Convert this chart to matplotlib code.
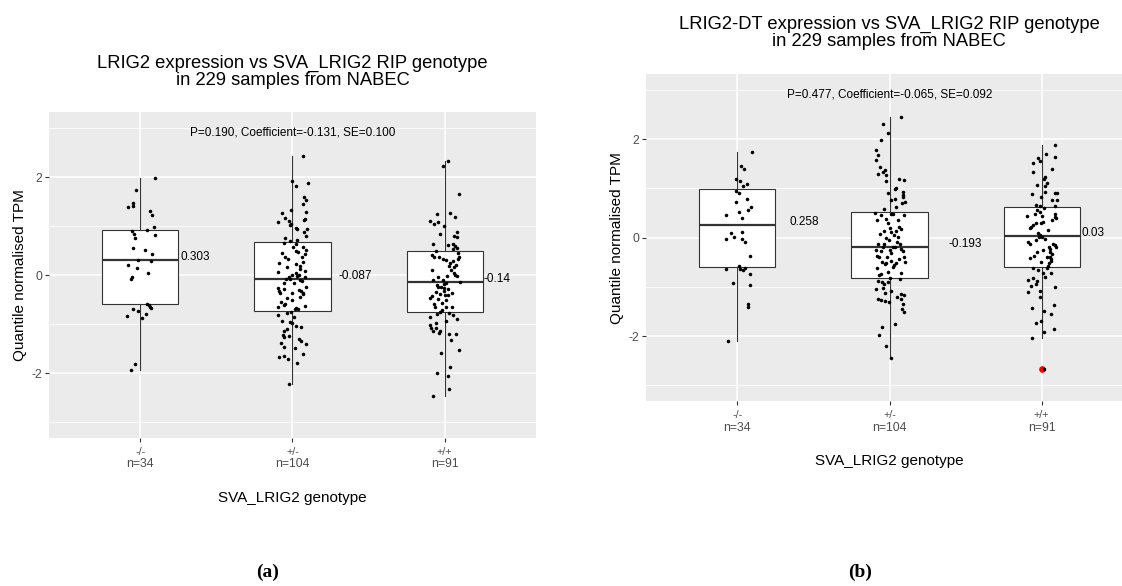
import numpy as np
import matplotlib
matplotlib.use("Agg")
import matplotlib.pyplot as plt

plt.rcParams['font.family'] = ['Liberation Sans', 'DejaVu Sans']
plt.rcParams['axes.unicode_minus'] = False

# ---------------- data ----------------
genotypes = ["-/-", "+/-", "+/+"]
counts = [34, 104, 91]
x_title = "SVA_LRIG2 genotype"
y_title = "Quantile normalised TPM"

titles = ["LRIG2 expression vs SVA_LRIG2 RIP genotype\nin 229 samples from NABEC",
          "LRIG2-DT expression vs SVA_LRIG2 RIP genotype\nin 229 samples from NABEC"]
stats_text = ["P=0.190, Coefficient=-0.131, SE=0.100",
              "P=0.477, Coefficient=-0.065, SE=0.092"]
panel_tags = ["(a)", "(b)"]

# box statistics: q1, median, q3, whisker low, whisker high
a_q1 = [-0.596, -0.725, -0.76]
a_med = [0.303, -0.087, -0.14]
a_q3 = [0.915, 0.684, 0.50]
a_wlo = [-1.93, -2.22, -2.46]
a_whi = [1.98, 2.42, 2.32]
a_fliers = [[], [], []]
a_med_labels = ["0.303", "-0.087", "-0.14"]

b_q1 = [-0.60, -0.81, -0.59]
b_med = [0.258, -0.193, 0.03]
b_q3 = [0.995, 0.514, 0.616]
b_wlo = [-2.11, -2.45, -2.03]
b_whi = [1.75, 2.46, 1.88]
b_fliers = [[], [], [-2.67]]
b_med_labels = ["0.258", "-0.193", "0.03"]

# individual samples (value, horizontal jitter) per genotype
a1_y = [1.98, 1.73, 1.48, 1.41, 1.38, 1.31, 1.22, 0.98, 0.93, 0.89, 0.83, 0.75, 0.81, 0.55, 0.51, 0.44,
        0.31, 0.28, 0.20, 0.15, 0.04, -0.04, -0.07, -0.58, -0.61, -0.64, -0.67, -0.70, -0.74, -0.79,
        -0.83, -0.87, -1.82, -1.93]
a1_j = [0.095, -0.031, -0.048, -0.048, -0.084, 0.066, 0.079, 0.090, 0.046, -0.057, -0.042, -0.033, 0.097,
        -0.046, 0.033, 0.079, -0.018, 0.073, -0.081, -0.020, 0.051, -0.057, -0.064, 0.046, 0.055, 0.062,
        0.068, -0.046, -0.015, 0.035, -0.090, 0.011, -0.037, -0.059]

a2_y = [1.92, 1.82, 1.87, 1.59, 1.54, 1.45, 1.33, 1.29, 1.26, 1.16, 1.14, 1.12, 1.10, 1.08, 1.05, 1.02,
        0.96, 0.94, 0.95, 0.87, 0.79, 0.76, 0.72, 0.70, 0.66, 0.64, 0.58, 0.52, 0.50, 0.45, 0.43, 0.37,
        0.38, 0.26, 0.24, 0.22, 0.16, 0.12, 0.09, 0.06, 0.04, 0.01, 0.00, -0.03, -0.03, -0.07, -0.02,
        -0.07, -0.10, -0.11, -0.15, -0.17, -0.24, -0.26, -0.33, -0.28, -0.36, -0.30, -0.33, -0.39, -0.36,
        -0.36, -0.44, -0.46, -0.51, -0.58, -0.60, -0.62, -0.64, -0.67, -0.68, -0.69, -0.75, -0.85, -0.81,
        -0.93, -0.96, -0.98, -1.03, -1.05, -1.10, -1.14, -1.23, -1.25, -1.26, -1.30, -1.34, -1.41, -1.39,
        -1.46, -1.49, -1.60, -1.67, -1.64, -1.71, -1.79, -2.22, 2.42, 0.33, 0.18, -0.54, 0.58, 0.47, -0.78]
a2_j = [-0.004, 0.025, 0.100, 0.078, 0.087, 0.069, -0.010, 0.087, -0.072, -0.050, 0.084, 0.076, -0.026,
        -0.096, -0.012, -0.015, 0.023, 0.029, 0.098, 0.073, 0.091, -0.052, 0.032, -0.015, -0.059, 0.025,
        0.067, 0.087, 0.025, -0.067, 0.080, 0.062, -0.052, 0.069, -0.089, 0.025, -0.039, 0.047, 0.082,
        -0.098, 0.025, 0.043, -0.001, -0.023, 0.080, -0.041, 0.032, -0.015, 0.047, 0.060, 0.010, -0.054,
        0.091, -0.098, -0.087, -0.056, -0.081, 0.043, 0.056, 0.067, 0.069, -0.006, 0.047, -0.037, -0.001,
        -0.050, -0.059, 0.082, -0.096, 0.025, 0.018, 0.034, -0.012, 0.007, -0.094, -0.067, -0.015, -0.001,
        0.023, 0.054, -0.039, -0.054, -0.063, -0.021, -0.056, 0.045, 0.056, 0.089, -0.078, -0.054, 0.016,
        0.069, -0.087, -0.059, -0.028, 0.029, -0.023, 0.070, -0.032, 0.051, -0.076, 0.003, 0.034, -0.037]

a3_y = [2.32, 2.22, 1.66, 1.27, 1.24, 1.18, 1.10, 1.08, 1.05, 1.00, 0.87, 0.84, 0.80, 0.77, 0.64, 0.62,
        0.59, 0.56, 0.54, 0.46, 0.49, 0.42, 0.37, 0.33, 0.31, 0.28, 0.33, 0.18, 0.20, 0.16, 0.10, 0.10,
        0.05, -0.01, -0.03, -0.01, -0.14, -0.20, -0.19, -0.17, -0.24, -0.25, -0.27, -0.29, -0.32, -0.36,
        -0.39, -0.41, -0.43, -0.47, -0.48, -0.51, -0.59, -0.64, -0.71, -0.75, -0.77, -0.80, -0.82, -0.94,
        -0.90, -0.86, -1.02, -1.07, -1.08, -1.14, -1.13, -1.18, -1.19, -1.20, -1.33, -1.52, -1.58, -1.88,
        -1.99, -2.05, -2.32, -2.46, 0.36, 0.24, 0.00, -0.09, -0.34, -0.41, -0.64, -0.56, -0.10, 0.37, 0.64,
        -0.64, -0.98]
a3_j = [0.020, -0.009, 0.097, 0.035, -0.053, 0.068, -0.095, -0.046, -0.068, -0.007, 0.079, -0.031, 0.064,
        0.079, -0.075, 0.022, 0.068, 0.084, 0.055, 0.088, -0.057, -0.086, -0.035, -0.013, 0.009, 0.057,
        0.086, 0.031, 0.077, 0.064, 0.042, -0.084, 0.059, 0.081, -0.046, 0.015, 0.103, -0.051, -0.002,
        0.009, -0.024, -0.046, -0.007, 0.020, -0.002, 0.046, -0.031, 0.024, -0.086, -0.095, -0.042, 0.009,
        -0.073, -0.064, -0.018, -0.033, 0.026, -0.051, 0.057, 0.009, 0.081, -0.095, -0.095, -0.090, -0.055,
        -0.031, -0.079, -0.040, 0.026, 0.073, 0.042, 0.095, -0.024, 0.037, -0.051, 0.024, 0.031, -0.079,
        -0.068, 0.037, 0.068, -0.011, -0.057, 0.004, 0.046, -0.020, -0.079, 0.095, 0.055, 0.009, -0.057]

b1_y = [1.75, 1.46, 1.40, 1.20, 1.16, 1.10, 1.04, 0.95, 0.79, 0.73, 0.62, 0.56, 0.53, 0.46, 0.40, 0.12,
        0.09, 0.01, -0.03, -0.03, -0.09, -0.37, -0.57, -0.62, -0.66, -0.64, -0.74, -0.92, -0.97, -1.35,
        -1.40, -2.11, 0.90, -0.64]
b1_j = [0.099, 0.024, 0.044, -0.009, 0.018, 0.066, 0.040, -0.011, 0.062, -0.009, 0.090, 0.070, 0.011,
        -0.077, 0.029, 0.029, -0.042, -0.022, -0.075, 0.031, 0.051, 0.084, 0.011, 0.053, 0.040, -0.073,
        0.084, -0.026, 0.084, 0.073, 0.068, -0.064, 0.009, 0.018]

b2_y = [2.46, 2.30, 2.13, 1.98, 1.78, 1.68, 1.58, 1.44, 1.37, 1.34, 1.29, 1.27, 1.16, 1.19, 1.17, 1.00,
        0.98, 0.93, 0.91, 0.87, 0.83, 0.79, 0.72, 0.70, 0.58, 0.51, 0.47, 0.49, 0.48, 0.47, 0.37, 0.35,
        0.21, 0.18, 0.20, 0.14, 0.14, 0.07, 0.05, 0.02, -0.05, -0.08, -0.12, -0.13, -0.18, -0.20, -0.24,
        -0.26, -0.25, -0.31, -0.39, -0.37, -0.39, -0.44, -0.50, -0.52, -0.51, -0.55, -0.59, -0.49, -0.53,
        -0.69, -0.76, -0.74, -0.83, -0.84, -0.89, -0.91, -0.95, -1.03, -1.04, -1.13, -1.08, -1.24, -1.27,
        -1.29, -1.31, -1.14, -1.16, -1.20, -1.25, -1.35, -1.46, -1.52, -1.76, -1.81, -1.97, -2.21, -2.45,
        0.36, 0.12, -0.01, -0.12, -0.28, -0.28, -0.39, -0.47, -0.62, -0.72, 0.29, 0.63, 0.76, -0.18, -0.91]
b2_j = [0.075, -0.044, -0.011, -0.057, -0.090, -0.073, -0.086, -0.064, -0.029, -0.040, -0.075, -0.022,
        -0.026, 0.062, 0.095, 0.042, 0.033, 0.086, -0.007, 0.088, 0.090, 0.035, 0.099, 0.081, -0.035,
        -0.092, -0.057, 0.007, 0.024, 0.097, -0.020, -0.084, 0.062, 0.075, 0.000, -0.035, 0.042, -0.064,
        0.031, 0.055, -0.002, 0.048, -0.075, -0.035, 0.020, 0.035, 0.075, 0.000, -0.088, 0.011, -0.066,
        -0.084, 0.092, 0.062, 0.101, 0.044, -0.022, 0.031, 0.024, -0.051, -0.031, -0.009, -0.070, -0.057,
        0.004, 0.068, -0.075, -0.048, -0.033, -0.042, -0.090, -0.031, 0.011, -0.075, -0.057, -0.029,
        -0.004, 0.075, 0.097, 0.046, 0.073, 0.086, 0.079, 0.092, 0.035, -0.051, -0.066, -0.026, 0.007,
        0.053, 0.009, -0.024, 0.070, -0.057, 0.088, -0.018, 0.013, -0.079, 0.075, -0.013, 0.042, 0.013,
        -0.040, -0.009]

b3_y = [1.88, 1.71, 1.64, 1.61, 1.56, 1.51, 1.34, 1.39, 1.24, 1.20, 1.12, 1.07, 1.04, 0.93, 0.90, 0.90,
        0.89, 0.82, 0.76, 0.66, 0.64, 0.60, 0.64, 0.56, 0.52, 0.49, 0.43, 0.41, 0.39, 0.36, 0.32, 0.29,
        0.29, 0.22, 0.26, 0.19, 0.09, 0.05, 0.01, 0.02, -0.03, -0.08, -0.12, -0.15, -0.20, -0.20, -0.24,
        -0.26, -0.30, -0.30, -0.33, -0.37, -0.40, -0.42, -0.40, -0.44, -0.51, -0.47, -0.57, -0.62, -0.61,
        -0.72, -0.83, -0.86, -0.89, -0.94, -1.00, -1.08, -1.10, -1.20, -1.37, -1.42, -1.49, -1.55, -1.69,
        -1.73, -1.85, -1.91, -2.03, -2.67, 0.48, 0.16, -0.05, -0.12, -0.49, -0.79, -0.99, -0.72, -0.66,
        0.44, 0.76]
b3_j = [0.088, 0.029, 0.090, -0.024, -0.011, -0.057, -0.057, 0.068, 0.024, 0.015, 0.037, -0.033, 0.020,
        0.020, 0.090, 0.103, -0.064, -0.007, 0.099, -0.040, -0.011, 0.015, 0.088, -0.029, -0.011, 0.088,
        -0.095, 0.086, 0.092, 0.070, 0.007, -0.037, -0.002, -0.068, -0.055, -0.077, -0.024, -0.011, 0.002,
        -0.020, 0.020, -0.090, -0.077, 0.086, 0.097, 0.051, 0.055, 0.007, -0.033, 0.057, 0.068, -0.053,
        0.033, -0.077, 0.053, 0.059, 0.048, 0.059, 0.042, 0.037, -0.059, 0.011, -0.055, -0.090, -0.033,
        -0.037, 0.090, -0.011, -0.090, -0.011, 0.081, -0.062, 0.013, 0.064, -0.002, -0.035, 0.081, 0.018,
        -0.064, 0.013, -0.046, 0.042, -0.037, 0.075, -0.007, 0.024, -0.068, 0.064, -0.024, 0.002, 0.068]

# ---------------- drawing ----------------
PANEL_BG = "#EBEBEB"
DARK = "#333333"
TICK_TXT = "#4D4D4D"
W, H = 1122, 586

fig = plt.figure(figsize=(W / 100, H / 100), dpi=100)
fig.patch.set_facecolor("white")

panels = [
    dict(rect=[49 / W, 1 - 438 / H, 487 / W, 325.7 / H],
         q1=a_q1, med=a_med, q3=a_q3, wlo=a_wlo, whi=a_whi, fliers=a_fliers,
         ys=[a1_y, a2_y, a3_y], js=[a1_j, a2_j, a3_j], labels=a_med_labels,
         label_dx=[0.265, 0.30, 0.255], title_xy=(292.5 / W, 1 - 72 / H)),
    dict(rect=[646 / W, 1 - 401 / H, 487 / W, 326.7 / H],
         q1=b_q1, med=b_med, q3=b_q3, wlo=b_wlo, whi=b_whi, fliers=b_fliers,
         ys=[b1_y, b2_y, b3_y], js=[b1_j, b2_j, b3_j], labels=b_med_labels,
         label_dx=[0.345, 0.39, 0.26], title_xy=(889 / W, 1 - 33 / H)),
]
tag_x = [268 / W, 860 / W]

for k, p in enumerate(panels):
    ax = fig.add_axes(p["rect"])
    ax.set_facecolor(PANEL_BG)
    for s in ax.spines.values():
        s.set_visible(False)
    pos = np.arange(1, len(genotypes) + 1)

    stats = []
    for i in range(len(genotypes)):
        stats.append(dict(med=p["med"][i], q1=p["q1"][i], q3=p["q3"][i],
                          whislo=p["wlo"][i], whishi=p["whi"][i], fliers=p["fliers"][i]))
    ax.bxp(stats, positions=pos, widths=0.5, patch_artist=True, showcaps=False,
           manage_ticks=False,
           boxprops=dict(facecolor="white", edgecolor=DARK, linewidth=0.8),
           medianprops=dict(color=DARK, linewidth=1.6),
           whiskerprops=dict(color=DARK, linewidth=0.8),
           flierprops=dict(marker="o", markerfacecolor="red", markeredgecolor="red",
                           markersize=3.8, linestyle="none"))

    for i in range(len(genotypes)):
        ys = np.asarray(p["ys"][i])
        xs = pos[i] + np.asarray(p["js"][i])
        ax.scatter(xs, ys, s=6.5, color="black", linewidths=0, zorder=4)
        ax.text(pos[i] + p["label_dx"][i], p["med"][i] + 0.07, p["labels"][i],
                fontsize=8.5, color="black", ha="left", va="center", zorder=5)

    ax.text(2, 2.9, stats_text[k], fontsize=8.5, ha="center", va="center", color="black")

    ax.set_xlim(0.4, 3.6)
    ax.set_ylim(-3.32, 3.32)
    ax.set_xticks(pos)
    ax.set_xticklabels([])
    ax.set_yticks([-2, 0, 2])
    ax.set_yticklabels(["-2", "0", "2"], fontsize=8.8, color=TICK_TXT)
    ax.set_yticks([-3, -1, 1, 3], minor=True)
    ax.tick_params(which="major", length=2.75, width=0.8, color=DARK, pad=2.2)
    ax.tick_params(which="minor", length=0)
    ax.set_axisbelow(True)
    ax.grid(which="major", color="white", linewidth=1.1)
    ax.grid(which="minor", axis="y", color="white", linewidth=0.55)

    xt = ax.get_xaxis_transform()
    for i in range(len(genotypes)):
        ax.text(pos[i], -13.6 / 326, genotypes[i], transform=xt, fontsize=7.8,
                color=TICK_TXT, ha="center", va="center")
        ax.text(pos[i], -26.5 / 326, f"n={counts[i]}", transform=xt, fontsize=8.8,
                color=TICK_TXT, ha="center", va="center")

    ax.set_xlabel(x_title, fontsize=11, color="black")
    ax.xaxis.set_label_coords(0.5, -60 / 326)
    ax.xaxis.label.set_va("center")
    ax.set_ylabel(y_title, fontsize=11, color="black")
    ax.yaxis.set_label_coords(-29 / 487, 0.5)
    ax.yaxis.label.set_va("center")

    fig.text(p["title_xy"][0], p["title_xy"][1], titles[k], fontsize=13.2,
             ha="center", va="center", linespacing=1.05)
    fig.text(tag_x[k], 1 - 572 / H, panel_tags[k], fontsize=14, fontweight="bold",
             family="Liberation Serif", ha="center", va="center")

fig.savefig("out.png", dpi=100, facecolor="white")
